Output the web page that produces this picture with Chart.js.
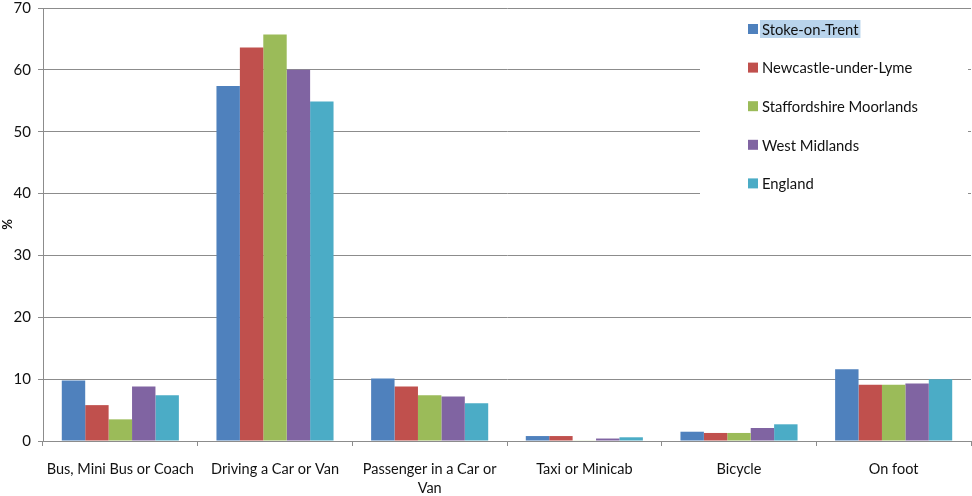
<!DOCTYPE html>
<html>
<head>
<meta charset="utf-8">
<script src="https://cdn.jsdelivr.net/npm/chart.js@4"></script>
<style>
  html, body { margin: 0; padding: 0; background: #fff; }
  #wrap { width: 972px; height: 496px; position: relative; }
</style>
</head>
<body>
<div id="wrap"><canvas id="c"></canvas></div>
<script>
const categories = [
  "Bus, Mini Bus or Coach",
  "Driving a Car or Van",
  ["Passenger in a Car or", "Van"],
  "Taxi or Minicab",
  "Bicycle",
  "On foot"
];
const stokeOnTrent       = [9.8, 57.4, 10.1, 0.8, 1.5, 11.6];
const newcastleUnderLyme = [5.8, 63.6, 8.8, 0.8, 1.3, 9.1];
const staffsMoorlands    = [3.5, 65.7, 7.4, 0.1, 1.3, 9.1];
const westMidlands       = [8.8, 60.0, 7.2, 0.4, 2.1, 9.3];
const england            = [7.4, 54.9, 6.1, 0.6, 2.7, 10.0];
const yTicks = [0, 10, 20, 30, 40, 50, 60, 70];

const FONT = "Lato, 'Open Sans', sans-serif";
const GRID = "#8c8c8c";
const TEXT = "#111111";

// Legend drawn inside the plot, on a white panel over the grid lines
const insideLegend = {
  id: "insideLegend",
  afterDatasetsDraw(chart) {
    const ctx = chart.ctx;
    ctx.save();
    ctx.fillStyle = "#ffffff";
    ctx.fillRect(700, 11, 268, 201);
    ctx.font = "14.8px " + FONT;
    ctx.textBaseline = "middle";
    const x0 = 748, y0 = 29, step = 38.6;
    chart.data.datasets.forEach((ds, i) => {
      const y = y0 + i * step;
      if (i === 0) {
        const w = ctx.measureText(ds.label).width;
        ctx.fillStyle = "#b9d4ec";
        ctx.fillRect(760, y - 9, w + 4, 18);
      }
      ctx.fillStyle = ds.backgroundColor;
      ctx.fillRect(x0, y - 5, 10, 10);
      ctx.fillStyle = TEXT;
      ctx.fillText(ds.label, 762, y + 1);
    });
    ctx.restore();
  }
};

new Chart(document.getElementById("c"), {
  type: "bar",
  data: {
    labels: categories,
    datasets: [
      { label: "Stoke-on-Trent", data: stokeOnTrent, backgroundColor: "#4f81bd" },
      { label: "Newcastle-under-Lyme", data: newcastleUnderLyme, backgroundColor: "#c0504d" },
      { label: "Staffordshire Moorlands", data: staffsMoorlands, backgroundColor: "#9bbb59" },
      { label: "West Midlands", data: westMidlands, backgroundColor: "#8064a2" },
      { label: "England", data: england, backgroundColor: "#4bacc6" }
    ]
  },
  options: {
    responsive: true,
    maintainAspectRatio: false,
    animation: false,
    layout: { padding: { top: 8, right: 1, left: 0, bottom: 0 } },
    datasets: { bar: { categoryPercentage: 0.757, barPercentage: 1.0 } },
    plugins: {
      legend: { display: false },
      tooltip: { enabled: false }
    },
    scales: {
      x: {
        grid: {
          offset: true,
          drawOnChartArea: false,
          drawTicks: true,
          tickLength: 5,
          color: GRID
        },
        border: { color: GRID, width: 1 },
        ticks: {
          color: TEXT,
          font: { family: FONT, size: 14.5, lineHeight: 1.3 },
          padding: 14,
          maxRotation: 0,
          autoSkip: false
        },
        afterFit(axis) { axis.height = 55; axis.paddingLeft = 0; axis.paddingRight = 0; }
      },
      y: {
        min: 0,
        max: 70,
        afterBuildTicks(axis) { axis.ticks = yTicks.map(v => ({ value: v })); },
        grid: { color: GRID, tickLength: 5 },
        border: { color: GRID, width: 1 },
        ticks: {
          color: TEXT,
          font: { family: FONT, size: 15 },
          padding: 7
        },
        title: {
          display: true,
          text: "%",
          color: TEXT,
          font: { family: FONT, size: 13, weight: "bold" },
          padding: { top: 0, bottom: 2 }
        },
        afterFit(axis) { axis.width = 43; axis.paddingTop = 0; axis.paddingBottom = 0; }
      }
    }
  },
  plugins: [insideLegend]
});
</script>
</body>
</html>
